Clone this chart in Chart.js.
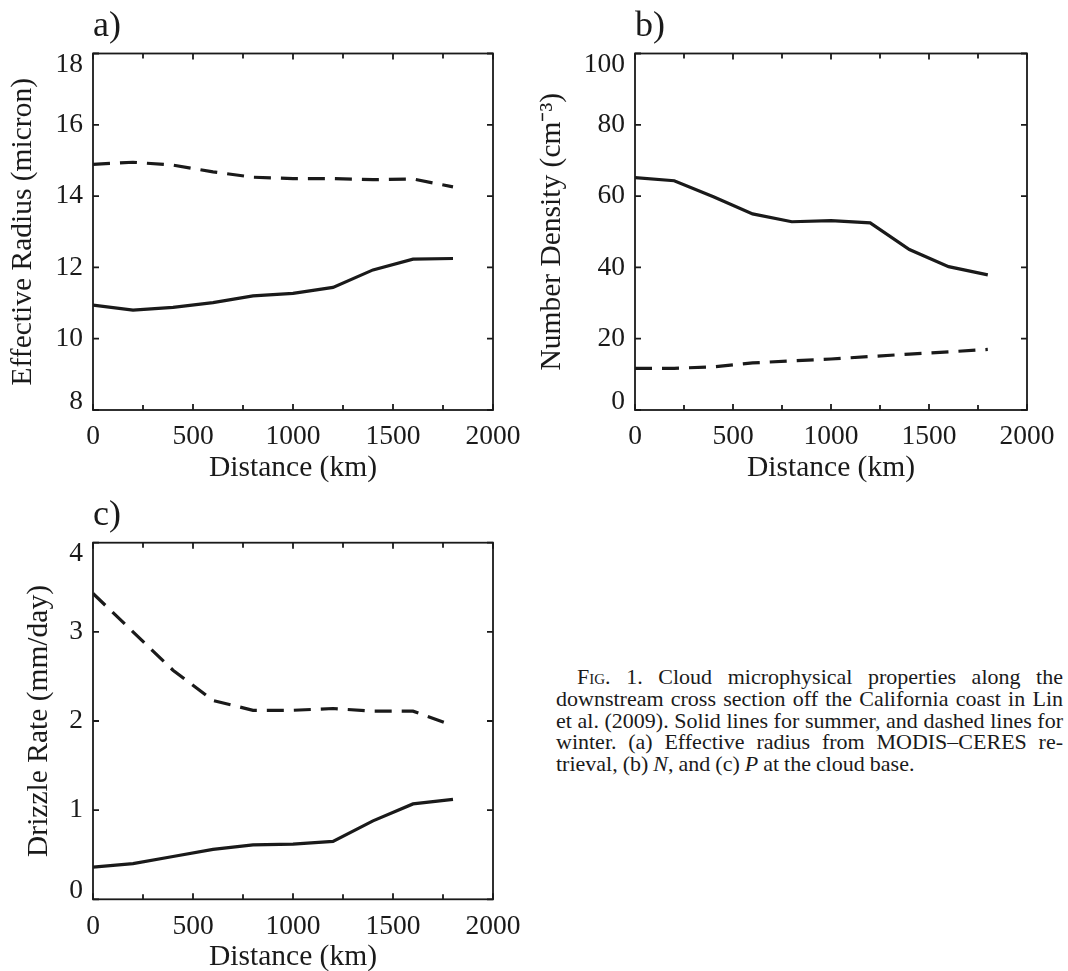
<!DOCTYPE html>
<html>
<head>
<meta charset="utf-8">
<script src="https://cdn.jsdelivr.net/npm/chart.js@4"></script>
<style>
  html, body { margin: 0; padding: 0; background: #fff; overflow: hidden; }
  body { width: 1068px; height: 971px; position: relative; }
  canvas { position: absolute; }
  #panel-a { left: 0; top: 0; }
  #panel-b { left: 534px; top: 0; }
  #panel-c { left: 0; top: 490px; }
  .caption {
    position: absolute; left: 556px; top: 666px; width: 507px;
    font-family: "Liberation Serif", "Times New Roman", serif;
    font-size: 22px; line-height: 21.8px; word-spacing: -0.5px; color: #1a1a1a;
  }
  .caption div { text-align: justify; text-align-last: justify; }
  .caption div.first { text-indent: 21px; }
  .caption div.last { text-align-last: left; }
  .sc { font-variant: small-caps; }
</style>
</head>
<body>
<canvas id="panel-a" width="534" height="490"></canvas>
<canvas id="panel-b" width="534" height="490"></canvas>
<canvas id="panel-c" width="534" height="481"></canvas>

<div class="caption">
  <div class="first"><span class="sc">Fig.</span> 1. Cloud microphysical properties along the</div>
  <div>downstream cross section off the California coast in Lin</div>
  <div>et al. (2009). Solid lines for summer, and dashed lines for</div>
  <div>winter. (a) Effective radius from MODIS–CERES re-</div>
  <div class="last">trieval, (b) <i>N</i>, and (c) <i>P</i> at the cloud base.</div>
</div>

<script>
// distance along the cross section (km)
const distance = [0, 200, 400, 600, 800, 1000, 1200, 1400, 1600, 1800];
const xLabels = [0, 500, 1000, 1500, 2000];

// a) effective radius (micron)
const radiusSummer = [10.94, 10.80, 10.88, 11.01, 11.20, 11.27, 11.44, 11.93, 12.23, 12.25];
const radiusWinter = [14.89, 14.95, 14.87, 14.68, 14.53, 14.49, 14.49, 14.46, 14.48, 14.26];

// b) number density (cm-3)
const densitySummer = [65.2, 64.3, 59.8, 55.0, 52.8, 53.1, 52.5, 45.0, 40.2, 37.9];
const densityWinter = [11.7, 11.7, 12.1, 13.2, 13.8, 14.3, 15.0, 15.7, 16.3, 17.0];

// c) drizzle rate (mm/day)
const drizzleSummer = [0.36, 0.40, 0.48, 0.56, 0.61, 0.62, 0.65, 0.88, 1.07, 1.12];
const drizzleWinter = [3.43, 3.00, 2.57, 2.23, 2.12, 2.12, 2.14, 2.11, 2.11, 1.95];

const ink = '#1a1a1a';
const serif = '"Liberation Serif", "Times New Roman", serif';
Chart.defaults.font.family = serif;
Chart.defaults.color = ink;

// frame, inward ticks, y labels and the panel letter
const framePlugin = {
    id: 'frame',
    afterDatasetsDraw(chart, args, opts) {
        const { ctx, chartArea: a, scales: { x, y } } = chart;
        ctx.save();
        ctx.strokeStyle = ink;
        ctx.lineWidth = 1.8;
        ctx.strokeRect(a.left, a.top, a.right - a.left, a.bottom - a.top);

        ctx.beginPath();
        x.ticks.forEach(t => {
            const px = x.getPixelForValue(t.value);
            const len = t.value % 500 === 0 ? 6 : 5;
            ctx.moveTo(px, a.bottom); ctx.lineTo(px, a.bottom - len);
            ctx.moveTo(px, a.top); ctx.lineTo(px, a.top + len);
        });
        y.ticks.forEach(t => {
            const py = y.getPixelForValue(t.value);
            ctx.moveTo(a.left, py); ctx.lineTo(a.left + 6, py);
            ctx.moveTo(a.right, py); ctx.lineTo(a.right - 6, py);
        });
        ctx.stroke();

        ctx.fillStyle = ink;
        ctx.font = '27.5px ' + serif;
        ctx.textAlign = 'right';
        ctx.textBaseline = 'middle';
        y.ticks.forEach(t => {
            let py = y.getPixelForValue(t.value);
            py = Math.min(Math.max(py, a.top + 11), a.bottom - 8.5);
            ctx.fillText(t.label, a.left - 10, py);
        });

        ctx.font = '36px ' + serif;
        ctx.textAlign = 'left';
        ctx.textBaseline = 'alphabetic';
        ctx.fillText(opts.label, a.left, a.top - 18);
        ctx.restore();
    }
};

function makePanel(id, box, yTitle, yMin, yMax, yStep, summer, winter) {
    const pts = vals => distance.map((d, i) => ({ x: d, y: vals[i] }));
    return new Chart(document.getElementById(id), {
        type: 'line',
        data: {
            datasets: [{
                label: 'summer',
                data: pts(summer),
                borderColor: ink,
                borderWidth: 3.2,
                pointRadius: 0,
                tension: 0
            }, {
                label: 'winter',
                data: pts(winter),
                borderColor: ink,
                borderWidth: 3.2,
                borderDash: [17, 10],
                pointRadius: 0,
                tension: 0
            }]
        },
        options: {
            responsive: false,
            animation: false,
            events: [],
            layout: { padding: { top: box.top, right: box.right, bottom: box.bottom, left: 0 } },
            plugins: {
                legend: { display: false },
                tooltip: { enabled: false },
                frame: { label: box.label }
            },
            scales: {
                x: {
                    type: 'linear',
                    min: 0, max: 2000,
                    afterFit: s => { s.height = box.xHeight; },
                    grid: { display: false, drawTicks: false },
                    border: { display: false },
                    ticks: {
                        stepSize: 250,
                        autoSkip: false,
                        maxRotation: 0, minRotation: 0,
                        padding: 13.5,
                        font: { size: 27.5, lineHeight: 1 },
                        callback: v => xLabels.includes(v) ? String(v) : ''
                    },
                    title: {
                        display: true,
                        text: 'Distance (km)',
                        font: { size: 29.5, lineHeight: 0.9 },
                        padding: 0
                    }
                },
                y: {
                    min: yMin, max: yMax,
                    afterFit: s => { s.width = box.yWidth; },
                    grid: { display: false, drawTicks: false },
                    border: { display: false },
                    ticks: { display: false, stepSize: yStep },
                    title: {
                        display: true,
                        text: yTitle,
                        font: { size: 29.5, lineHeight: 0.9 },
                        padding: { top: box.titleX - 13.3, bottom: 0 }
                    }
                }
            }
        },
        plugins: [framePlugin]
    });
}

makePanel('panel-a',
    { label: 'a)', top: 53.5, right: 41, bottom: 8.7, xHeight: 71.3, yWidth: 93, titleX: 23 },
    'Effective Radius (micron)', 8, 18, 2, radiusSummer, radiusWinter);

makePanel('panel-b',
    { label: 'b)', top: 53.5, right: 37, bottom: 8.7, xHeight: 71.3, yWidth: 101, titleX: 18 },
    'Number Density (cm\u207B\u00B3)', 0, 100, 20, densitySummer, densityWinter);

makePanel('panel-c',
    { label: 'c)', top: 52.7, right: 41, bottom: 0, xHeight: 71.7, yWidth: 93, titleX: 39 },
    'Drizzle Rate (mm/day)', 0, 4, 1, drizzleSummer, drizzleWinter);
</script>
</body>
</html>
